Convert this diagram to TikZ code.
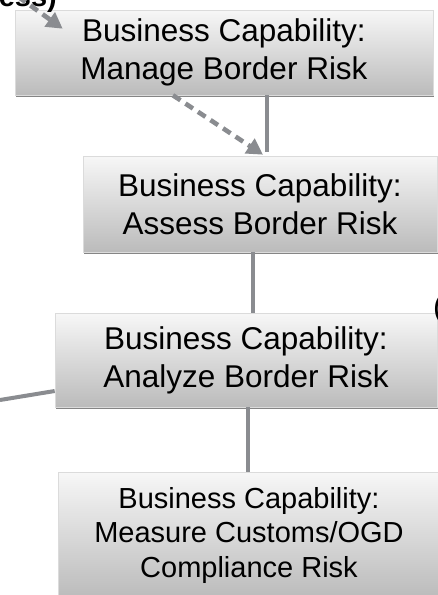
\documentclass[tikz,border=0pt]{standalone}
\usepackage{fontspec}
\setmainfont{Liberation Sans}
\usetikzlibrary{arrows.meta,shadows,calc}
\definecolor{conncol}{HTML}{8A8C90}
\definecolor{boxtop}{HTML}{F7F7F7}
\definecolor{boxbot}{HTML}{BBBBBB}
\begin{document}
\begin{tikzpicture}[x=1pt,y=-1pt,
  capbox/.style={draw=black!14, line width=0.6pt, top color=boxtop, bottom color=boxbot,
    align=center, inner sep=0pt, font=\fontsize{31.5}{38.3}\selectfont,
    drop shadow={shadow xshift=0.8pt, shadow yshift=-2.2pt, fill=black!60, opacity=0.8}},
  conn/.style={draw=conncol, line width=4pt},
  dconn/.style={conn, line width=4.6pt, dash pattern=on 9pt off 6pt, -{Triangle[length=16pt,width=17pt]}},
  partial/.style={inner sep=0pt, font=\fontsize{31.5}{38.3}\selectfont}
]
\useasboundingbox (0,0) rectangle (438,595);
\clip (0,0) rectangle (438,595);

\node[capbox, minimum width=418pt, minimum height=85pt] (b1) at (224,52.5) {Business Capability:\\Manage Border Risk};
\node[capbox, minimum width=354pt, minimum height=96pt] (b2) at (260,204) {Business Capability:\\Assess Border Risk};
\node[capbox, minimum width=382pt, minimum height=94pt] (b3) at (246,360) {Business Capability:\\Analyze Border Risk};
\node[capbox, font=\fontsize{29}{34.5}\selectfont, minimum width=382pt, minimum height=126pt] (b4) at (249,535) {Business Capability:\\Measure Customs/OGD\\Compliance Risk};

\node[partial, font=\bfseries\fontsize{29}{34}\selectfont, anchor=base east] (tltext) at (57,6) {cess)};
\node[partial, anchor=west] (rparen) at (433,309) {(};

\coordinate (v12) at (267,152);
\coordinate (v23) at (253,0);
\coordinate (v34) at (248,0);
\coordinate (lin) at (0,400);
\coordinate (l3) at (0,391);
\coordinate (tlstart) at (6,-12);

\draw[conn] (b1.south -| v12) -- (v12);
\draw[dconn] ($(b1.south west)!0.378!(b1.south east)$) -- ($(b2.north)+(3,-1)$);
\draw[dconn] (tlstart) -- ($(b1.north west)+(48,19)$);
\draw[conn] (b2.south -| v23) -- (b3.north -| v23);
\draw[conn] (b3.south -| v34) -- (b4.north -| v34);
\draw[conn] (lin) -- (b3.west |- l3);
\end{tikzpicture}
\end{document}
